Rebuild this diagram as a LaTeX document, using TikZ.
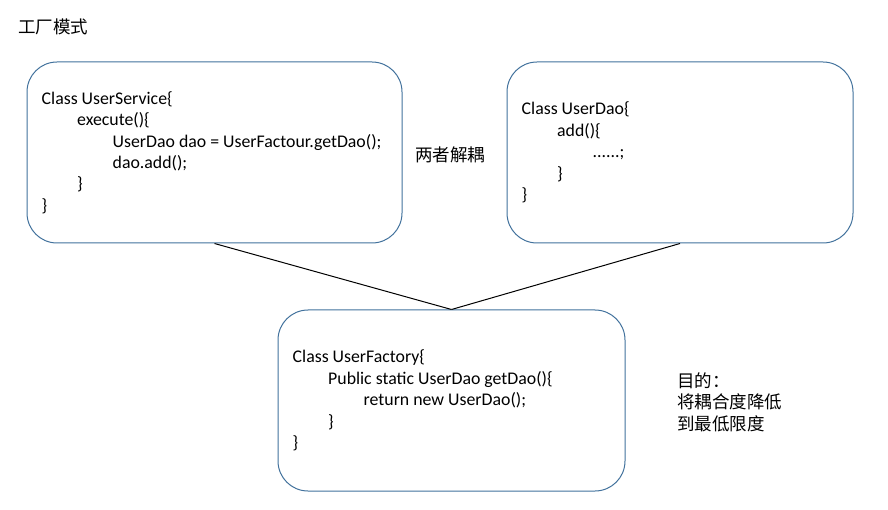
\documentclass[tikz,border=0pt]{standalone}
\usepackage{fontspec}
\setmainfont{Carlito}
\newfontfamily\cjk{Noto Sans CJK SC}
\usetikzlibrary{positioning}
\definecolor{boxblue}{HTML}{41719C}
\newcommand{\tb}{\hspace*{35.5pt}}
\tikzset{
  classbox/.style={draw=boxblue, line width=1pt, rounded corners=30pt, minimum height=181pt, inner sep=0pt},
  code/.style={anchor=west, align=left, inner sep=0pt, font=\fontsize{17.8}{21.4}\selectfont},
  note/.style={anchor=west, align=left, inner sep=0pt, font=\cjk\fontsize{17.5}{21.5}\selectfont},
  link/.style={line width=1pt}
}
\begin{document}
\begin{tikzpicture}[x=1pt, y=-1pt]
  \useasboundingbox (0,0) rectangle (888,510);
  \node[note] (title) at (18,27) {工厂模式};
  % the three classes
  \node[classbox, minimum width=375pt] (service) at (214.5,152.5) {};
  \node[classbox, minimum width=346pt] (dao) at (680,152.5) {};
  \node[classbox, minimum width=347pt] (factory) at (451.5,400.5) {};
  \node[code] (serviceCode) at ([xshift=15pt]service.west) {Class UserService\{\\
    \tb execute()\{\\
    \tb\tb UserDao dao = UserFactour.getDao();\\
    \tb\tb dao.add();\\
    \tb \}\\
    \}};
  \node[code] (daoCode) at ([xshift=15pt]dao.west) {Class UserDao\{\\
    \tb add()\{\\
    \tb\tb ......;\\
    \tb \}\\
    \}};
  \node[code] (factoryCode) at ([xshift=15pt]factory.west) {Class UserFactory\{\\
    \tb Public static UserDao getDao()\{\\
    \tb\tb return new UserDao();\\
    \tb \}\\
    \}};
  % links
  \draw[link] (service.south) -- (factory.north);
  \draw[link] (dao.south) -- (factory.north);
  \node[note] (decouple) at (415,155) {两者解耦};
  \node[note] (goal) at (677,402) {目的：\\将耦合度降低\\到最低限度};
\end{tikzpicture}
\end{document}
